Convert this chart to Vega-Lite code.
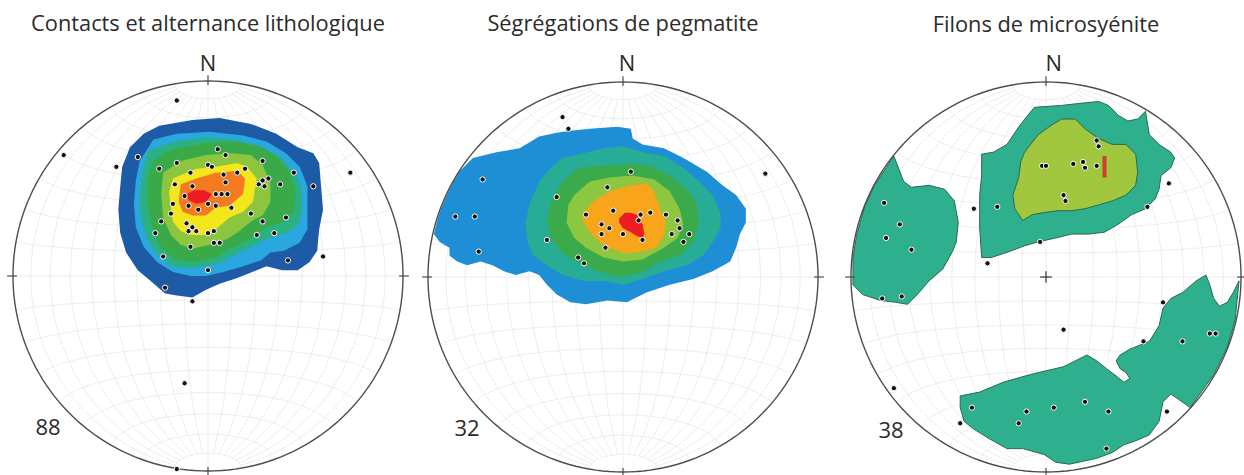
{
  "$schema": "https://vega.github.io/schema/vega-lite/v6.json",
  "width": 1244,
  "height": 475,
  "autosize": {"type": "none"},
  "padding": 0,
  "background": "white",
  "config": {"view": {"stroke": null}},
  "datasets": {
    "ticks": [
      {"u": 0, "v": 98, "u2": 0, "v2": 103},
      {"u": 0, "v": -98, "u2": 0, "v2": -103},
      {"u": -103, "v": 0, "u2": -98, "v2": 0},
      {"u": 98, "v": 0, "u2": 103, "v2": 0}
    ],
    "p1poly": [
      {"type": "Feature", "properties": {"k": "A1"}, "geometry": {"type": "Polygon", "coordinates": [[[-25,77],[-8,80],[6,81],[22,78],[35,73],[46,66],[54,63],[57,58],[58,46],[59,34],[57,24],[56,13],[52,7],[46,3],[38,3],[30,5],[25,3],[15,-1],[6,-4],[-1,-7],[-8,-11],[-16,-10],[-22,-9],[-30,-2],[-36,3],[-42,12],[-45,22],[-46,34],[-45,46],[-44,56],[-40,66],[-33,73],[-25,77]]]}},
      {"type": "Feature", "properties": {"k": "A2"}, "geometry": {"type": "Polygon", "coordinates": [[[-28,70],[-16,73],[1,74],[18,72],[30,69],[40,63],[47,56],[51,46],[51,34],[51,24],[47,17],[39,13],[32,12],[27,8],[18,5],[8,2],[-1,0],[-9,0],[-18,2],[-26,7],[-33,15],[-37,25],[-38,37],[-37,49],[-35,59],[-28,70]]]}},
      {"type": "Feature", "properties": {"k": "A3"}, "geometry": {"type": "Polygon", "coordinates": [[[-31,64],[-17,69],[0,71],[14,70],[28,66],[38,60],[45,52],[48,44],[48,33],[46,26],[40,22],[30,19],[22,15],[12,10],[4,6],[-8,4],[-18,5],[-26,11],[-31,19],[-34,28],[-35,38],[-34,50],[-31,64]]]}},
      {"type": "Feature", "properties": {"k": "A4"}, "geometry": {"type": "Polygon", "coordinates": [[[-28,59],[-18,65],[-2,68],[11,69],[25,67],[35,62],[42,53],[45,43],[44,33],[39,28],[28,24],[22,19],[11,14],[3,9],[-8,7],[-18,9],[-25,16],[-29,26],[-31,38],[-31,50],[-28,59]]]}},
      {"type": "Feature", "properties": {"k": "A5"}, "geometry": {"type": "Polygon", "coordinates": [[[-23,53],[-14,59],[-1,62],[11,63],[22,62],[28,57],[32,48],[32,38],[28,31],[22,28],[16,23],[10,19],[1,16],[-8,14],[-14,16],[-19,21],[-23,30],[-24,42],[-23,53]]]}},
      {"type": "Feature", "properties": {"k": "A6"}, "geometry": {"type": "Polygon", "coordinates": [[[-18,50],[-6,55],[4,56],[15,58],[20,56],[25,50],[23,38],[18,33],[11,30],[4,24],[-2,21],[-9,21],[-14,23],[-18,28],[-19,35],[-20,43],[-18,50]]]}},
      {"type": "Feature", "properties": {"k": "A7"}, "geometry": {"type": "Polygon", "coordinates": [[[-14,47],[-6,50],[4,53],[15,54],[19,50],[18,42],[11,36],[4,35],[-1,31],[-8,31],[-13,33],[-15,38],[-14,47]]]}},
      {"type": "Feature", "properties": {"k": "A8"}, "geometry": {"type": "Polygon", "coordinates": [[[-11,42],[-7,44],[-2,44],[2,42],[-1,38],[-6,37],[-10,39],[-11,42]]]}}
    ],
    "p2poly": [
      {"type": "Feature", "properties": {"k": "B1"}, "geometry": {"type": "Polygon", "coordinates": [[[-97,22],[-95,30],[-93,36],[-90,43],[-87,49],[-84,54],[-77,61],[-65,64],[-53,66],[-43,72],[-34,74],[-27,75],[-17,76],[-3,77],[4,76],[5,71],[10,68],[21,66],[31,61],[43,54],[51,47],[58,42],[63,35],[63,28],[60,22],[58,15],[55,8],[46,3],[36,-1],[24,-4],[12,-8],[2,-13],[-8,-12],[-19,-14],[-27,-13],[-34,-9],[-39,-4],[-43,1],[-48,3],[-55,1],[-61,3],[-67,6],[-73,8],[-80,6],[-85,8],[-89,11],[-89,15],[-94,18],[-97,22]]]}},
      {"type": "Feature", "properties": {"k": "B2"}, "geometry": {"type": "Polygon", "coordinates": [[[-37,56],[-31,61],[-22,63],[-10,66],[0,67],[10,64],[21,62],[31,56],[39,49],[46,42],[50,33],[50,25],[46,18],[41,11],[33,6],[21,3],[10,-1],[0,-4],[-10,-2],[-20,-2],[-31,1],[-39,6],[-46,11],[-49,18],[-50,28],[-48,37],[-43,49],[-37,56]]]}},
      {"type": "Feature", "properties": {"k": "B3"}, "geometry": {"type": "Polygon", "coordinates": [[[-31,49],[-22,56],[-10,57],[4,58],[14,57],[24,52],[33,45],[38,37],[39,27],[36,18],[29,11],[19,8],[9,2],[-2,0],[-13,3],[-24,8],[-32,13],[-37,20],[-39,28],[-37,39],[-31,49]]]}},
      {"type": "Feature", "properties": {"k": "B4"}, "geometry": {"type": "Polygon", "coordinates": [[[-25,42],[-17,49],[-7,51],[5,52],[16,50],[24,44],[29,35],[31,27],[28,20],[21,15],[10,9],[0,8],[-10,10],[-19,15],[-25,20],[-29,28],[-28,37],[-25,42]]]}},
      {"type": "Feature", "properties": {"k": "B5"}, "geometry": {"type": "Polygon", "coordinates": [[[-21,32],[-15,39],[-7,44],[4,47],[12,48],[16,44],[19,35],[22,28],[21,21],[17,15],[10,13],[2,12],[-5,14],[-12,18],[-17,23],[-20,28],[-21,32]]]}},
      {"type": "Feature", "properties": {"k": "B6"}, "geometry": {"type": "Polygon", "coordinates": [[[-2,30],[1,33],[4,33],[7,32],[10,27],[11,22],[10,20],[7,21],[4,23],[0,25],[-2,28],[-2,30]]]}}
    ],
    "p3poly": [
      {"type": "Feature", "properties": {"k": "C1"}, "geometry": {"type": "Polygon", "coordinates": [[[-33,63],[-27,64],[-20,68],[-14,77],[-6,87],[8,88],[17,89],[27,90],[32,88],[37,83],[42,80],[47,81],[51,85],[53,73],[58,68],[64,64],[66,61],[64,56],[59,52],[58,45],[56,40],[51,35],[44,32],[37,27],[30,23],[22,22],[13,22],[5,20],[-4,18],[-11,16],[-19,13],[-28,10],[-33,10],[-34,25],[-34,42],[-33,52],[-33,63]]]}},
      {"type": "Feature", "properties": {"k": "C1"}, "geometry": {"type": "Polygon", "coordinates": [[[-78,62],[-73,49],[-69,46],[-60,47],[-52,45],[-47,39],[-45,28],[-46,18],[-48,13],[-53,4],[-60,-2],[-66,-9],[-71,-14],[-77,-13],[-85,-12],[-94,-9],[-99,-4],[-99,10],[-97,22],[-93,36],[-88,47],[-82,56],[-78,62]]]}},
      {"type": "Feature", "properties": {"k": "C1"}, "geometry": {"type": "Polygon", "coordinates": [[[-44,-61],[-34,-59],[-22,-54],[-8,-50],[9,-46],[21,-40],[26,-43],[31,-47],[35,-50],[40,-54],[43,-52],[41,-49],[38,-47],[36,-43],[38,-40],[43,-37],[53,-33],[58,-25],[60,-16],[64,-11],[70,-8],[77,-2],[82,1],[84,-4],[86,-11],[89,-15],[93,-13],[96,-8],[99,-2],[97,-22],[93,-36],[86,-50],[74,-67],[67,-62],[64,-60],[60,-64],[58,-74],[53,-81],[46,-84],[40,-86],[34,-90],[26,-93],[12,-96],[5,-95],[-1,-91],[-12,-88],[-20,-88],[-29,-83],[-37,-78],[-42,-74],[-44,-67],[-44,-61]]]}},
      {"type": "Feature", "properties": {"k": "C2"}, "geometry": {"type": "Polygon", "coordinates": [[[-11,64],[-4,73],[3,78],[8,81],[15,81],[20,76],[27,71],[34,68],[41,68],[46,63],[47,54],[46,47],[41,42],[34,39],[27,37],[20,35],[13,34],[6,34],[-1,33],[-7,32],[-12,29],[-16,35],[-17,42],[-14,51],[-13,59],[-11,64]]]}}
    ],
    "p1pts": [
      {"u":-36,"v":61},{"u":5,"v":65},{"u":9,"v":62},{"u":28,"v":59},{"u":44,"v":53},{"u":54,"v":46},{"u":-25,"v":55},{"u":-16,"v":58},{"u":-9,"v":53},{"u":0,"v":57},{"u":2,"v":56},{"u":19,"v":55},{"u":15,"v":53},{"u":8,"v":52},{"u":9,"v":48},{"u":28,"v":49},{"u":31,"v":50},{"u":26,"v":47},{"u":29,"v":46},{"u":37,"v":47},{"u":-17,"v":47},{"u":-8,"v":46},{"u":-12,"v":41},{"u":4,"v":42},{"u":7,"v":42},{"u":10,"v":42},{"u":-10,"v":36},{"u":-5,"v":34},{"u":0,"v":37},{"u":4,"v":36},{"u":12,"v":35},{"u":-18,"v":37},{"u":-19,"v":32},{"u":-24,"v":28},{"u":-27,"v":22},{"u":-11,"v":27},{"u":-8,"v":25},{"u":-10,"v":23},{"u":-6,"v":23},{"u":0,"v":22},{"u":3,"v":23},{"u":22,"v":32},{"u":28,"v":28},{"u":40,"v":30},{"u":25,"v":21},{"u":34,"v":22},{"u":3,"v":17},{"u":6,"v":17},{"u":-9,"v":15},{"u":-23,"v":10},{"u":0,"v":3},{"u":41,"v":8},{"u":59,"v":10},{"u":-16,"v":90},{"u":-74,"v":62},{"u":-47,"v":56},{"u":73,"v":53},{"u":-12,"v":-55},{"u":-16,"v":-99},{"u":-8,"v":-13},{"u":-22,"v":-6}
    ],
    "p2pts": [
      {"u":-31,"v":82},{"u":-28,"v":76},{"u":-72,"v":50},{"u":-34,"v":41},{"u":-86,"v":31},{"u":-76,"v":31},{"u":-74,"v":13},{"u":4,"v":54},{"u":-8,"v":46},{"u":-19,"v":32},{"u":-5,"v":34},{"u":9,"v":32},{"u":8,"v":29},{"u":14,"v":33},{"u":22,"v":32},{"u":-11,"v":27},{"u":-11,"v":22},{"u":-7,"v":25},{"u":0,"v":22},{"u":10,"v":19},{"u":-9,"v":15},{"u":-39,"v":19},{"u":-23,"v":10},{"u":-20,"v":7},{"u":25,"v":22},{"u":28,"v":29},{"u":29,"v":25},{"u":34,"v":22},{"u":31,"v":18},{"u":73,"v":53}
    ],
    "p3pts": [
      {"u":-83,"v":38},{"u":-75,"v":27},{"u":-82,"v":20},{"u":-69,"v":14},{"u":-37,"v":35},{"u":-25,"v":36},{"u":-3,"v":18},{"u":-30,"v":7},{"u":26,"v":70},{"u":27,"v":67},{"u":-2,"v":57},{"u":0,"v":57},{"u":14,"v":58},{"u":19,"v":59},{"u":20,"v":56},{"u":26,"v":57},{"u":9,"v":42},{"u":10,"v":39},{"u":63,"v":48},{"u":52,"v":36},{"u":-84,"v":-11},{"u":-74,"v":-10},{"u":60,"v":-13},{"u":9,"v":-27},{"u":50,"v":-33},{"u":70,"v":-33},{"u":84,"v":-29},{"u":87,"v":-29},{"u":-78,"v":-57},{"u":-38,"v":-67},{"u":-10,"v":-69},{"u":-14,"v":-75},{"u":4,"v":-67},{"u":20,"v":-64},{"u":32,"v":-69},{"u":62,"v":-69},{"u":-44,"v":-75},{"u":31,"v":-88}
    ]
  },
  "layer": [
    {"data": {"graticule": true}, "mark": {"type": "geoshape", "filled": false, "stroke": "#e9e9e9", "strokeWidth": 0.8}, "projection": {"type": "azimuthalEqualArea", "scale": 137.9, "translate": [208, 276], "clipAngle": 90}},
    {"data": {"name": "p1poly"}, "mark": {"type": "geoshape", "strokeWidth": 0}, "encoding": {"color": {"field": "properties.k", "type": "nominal", "legend": null, "scale": {"domain": ["A1","A2","A3","A4","A5","A6","A7","A8","B1","B2","B3","B4","B5","B6","C1","C2"], "range": ["#1d5ba6","#2aa7df","#2bb07f","#3aaa49","#8cc63f","#f3e61b","#f37a21","#ec1c24","#1e8fd5","#27ad96","#3aaa4b","#8dc63f","#f9a51b","#ec1c24","#2eb08e","#a0c73d"]}}}, "projection": {"type": "identity", "reflectY": true, "scale": 1.95, "translate": [208, 276]}},
    {"data": {"sphere": true}, "mark": {"type": "geoshape", "filled": false, "stroke": "#4d4d4d", "strokeWidth": 1.4}, "projection": {"type": "azimuthalEqualArea", "scale": 137.9, "translate": [208, 276], "clipAngle": 90}},
    {"data": {"name": "ticks"}, "mark": {"type": "rule", "stroke": "#4d4d4d", "strokeWidth": 1.2}, "encoding": {"longitude": {"field": "u", "type": "quantitative"}, "latitude": {"field": "v", "type": "quantitative"}, "longitude2": {"field": "u2"}, "latitude2": {"field": "v2"}}, "projection": {"type": "identity", "reflectY": true, "scale": 1.95, "translate": [208, 276]}},
    {"data": {"name": "p1pts"}, "mark": {"type": "point", "filled": true, "color": "#111111", "stroke": "white", "strokeWidth": 1, "size": 28, "opacity": 1}, "encoding": {"longitude": {"field": "u", "type": "quantitative"}, "latitude": {"field": "v", "type": "quantitative"}}, "projection": {"type": "identity", "reflectY": true, "scale": 1.95, "translate": [208, 276]}},
    {"data": {"values": [{"t": "Contacts et alternance lithologique", "kind": "title", "u": 0, "v": 129}, {"t": "N", "kind": "N", "u": 0, "v": 108.5}, {"t": "88", "kind": "count", "u": -82, "v": -78}]}, "mark": {"type": "text", "font": "Open Sans", "fill": "#2b2b2b", "align": "center", "baseline": "middle"}, "encoding": {"longitude": {"field": "u", "type": "quantitative"}, "latitude": {"field": "v", "type": "quantitative"}, "text": {"field": "t"}, "size": {"field": "kind", "type": "nominal", "legend": null, "scale": {"domain": ["title", "N", "count"], "range": [21.8, 22, 27]}}}, "projection": {"type": "identity", "reflectY": true, "scale": 1.95, "translate": [208, 276]}},

    {"data": {"graticule": true}, "mark": {"type": "geoshape", "filled": false, "stroke": "#e9e9e9", "strokeWidth": 0.8}, "projection": {"type": "azimuthalEqualArea", "scale": 137.9, "translate": [623, 277], "clipAngle": 90}},
    {"data": {"name": "p2poly"}, "mark": {"type": "geoshape", "strokeWidth": 0}, "encoding": {"color": {"field": "properties.k", "type": "nominal", "legend": null}}, "projection": {"type": "identity", "reflectY": true, "scale": 1.95, "translate": [623, 277]}},
    {"data": {"sphere": true}, "mark": {"type": "geoshape", "filled": false, "stroke": "#4d4d4d", "strokeWidth": 1.4}, "projection": {"type": "azimuthalEqualArea", "scale": 137.9, "translate": [623, 277], "clipAngle": 90}},
    {"data": {"name": "ticks"}, "mark": {"type": "rule", "stroke": "#4d4d4d", "strokeWidth": 1.2}, "encoding": {"longitude": {"field": "u", "type": "quantitative"}, "latitude": {"field": "v", "type": "quantitative"}, "longitude2": {"field": "u2"}, "latitude2": {"field": "v2"}}, "projection": {"type": "identity", "reflectY": true, "scale": 1.95, "translate": [623, 277]}},
    {"data": {"name": "p2pts"}, "mark": {"type": "point", "filled": true, "color": "#111111", "stroke": "white", "strokeWidth": 1, "size": 28, "opacity": 1}, "encoding": {"longitude": {"field": "u", "type": "quantitative"}, "latitude": {"field": "v", "type": "quantitative"}}, "projection": {"type": "identity", "reflectY": true, "scale": 1.95, "translate": [623, 277]}},
    {"data": {"values": [{"t": "Ségrégations de pegmatite", "kind": "title", "u": 0, "v": 129.5}, {"t": "N", "kind": "N", "u": 2, "v": 109}, {"t": "32", "kind": "count", "u": -80, "v": -78}]}, "mark": {"type": "text", "font": "Open Sans", "fill": "#2b2b2b", "align": "center", "baseline": "middle"}, "encoding": {"longitude": {"field": "u", "type": "quantitative"}, "latitude": {"field": "v", "type": "quantitative"}, "text": {"field": "t"}, "size": {"field": "kind", "type": "nominal", "legend": null}}, "projection": {"type": "identity", "reflectY": true, "scale": 1.95, "translate": [623, 277]}},

    {"data": {"graticule": true}, "mark": {"type": "geoshape", "filled": false, "stroke": "#e9e9e9", "strokeWidth": 0.8}, "projection": {"type": "azimuthalEqualArea", "scale": 137.9, "translate": [1046, 277], "clipAngle": 90}},
    {"data": {"name": "p3poly"}, "mark": {"type": "geoshape", "stroke": "#2a6a4c", "strokeWidth": 1}, "encoding": {"color": {"field": "properties.k", "type": "nominal", "legend": null}}, "projection": {"type": "identity", "reflectY": true, "scale": 1.95, "translate": [1046, 277]}},
    {"data": {"sphere": true}, "mark": {"type": "geoshape", "filled": false, "stroke": "#4d4d4d", "strokeWidth": 1.4}, "projection": {"type": "azimuthalEqualArea", "scale": 137.9, "translate": [1046, 277], "clipAngle": 90}},
    {"data": {"name": "ticks"}, "mark": {"type": "rule", "stroke": "#4d4d4d", "strokeWidth": 1.2}, "encoding": {"longitude": {"field": "u", "type": "quantitative"}, "latitude": {"field": "v", "type": "quantitative"}, "longitude2": {"field": "u2"}, "latitude2": {"field": "v2"}}, "projection": {"type": "identity", "reflectY": true, "scale": 1.95, "translate": [1046, 277]}},
    {"data": {"values": [{"u": -3, "v": 0, "u2": 3, "v2": 0}, {"u": 0, "v": -3, "u2": 0, "v2": 3}]}, "mark": {"type": "rule", "stroke": "#333333", "strokeWidth": 1.2}, "encoding": {"longitude": {"field": "u", "type": "quantitative"}, "latitude": {"field": "v", "type": "quantitative"}, "longitude2": {"field": "u2"}, "latitude2": {"field": "v2"}}, "projection": {"type": "identity", "reflectY": true, "scale": 1.95, "translate": [1046, 277]}},
    {"data": {"values": [{"u": 30, "v": 51, "u2": 30, "v2": 62}]}, "mark": {"type": "rule", "stroke": "#c9412c", "strokeWidth": 4}, "encoding": {"longitude": {"field": "u", "type": "quantitative"}, "latitude": {"field": "v", "type": "quantitative"}, "longitude2": {"field": "u2"}, "latitude2": {"field": "v2"}}, "projection": {"type": "identity", "reflectY": true, "scale": 1.95, "translate": [1046, 277]}},
    {"data": {"name": "p3pts"}, "mark": {"type": "point", "filled": true, "color": "#111111", "stroke": "white", "strokeWidth": 1, "size": 28, "opacity": 1}, "encoding": {"longitude": {"field": "u", "type": "quantitative"}, "latitude": {"field": "v", "type": "quantitative"}}, "projection": {"type": "identity", "reflectY": true, "scale": 1.95, "translate": [1046, 277]}},
    {"data": {"values": [{"t": "Filons de microsyénite", "kind": "title", "u": 0, "v": 129}, {"t": "N", "kind": "N", "u": 4, "v": 109}, {"t": "38", "kind": "count", "u": -79.5, "v": -79}]}, "mark": {"type": "text", "font": "Open Sans", "fill": "#2b2b2b", "align": "center", "baseline": "middle"}, "encoding": {"longitude": {"field": "u", "type": "quantitative"}, "latitude": {"field": "v", "type": "quantitative"}, "text": {"field": "t"}, "size": {"field": "kind", "type": "nominal", "legend": null}}, "projection": {"type": "identity", "reflectY": true, "scale": 1.95, "translate": [1046, 277]}}
  ]
}
